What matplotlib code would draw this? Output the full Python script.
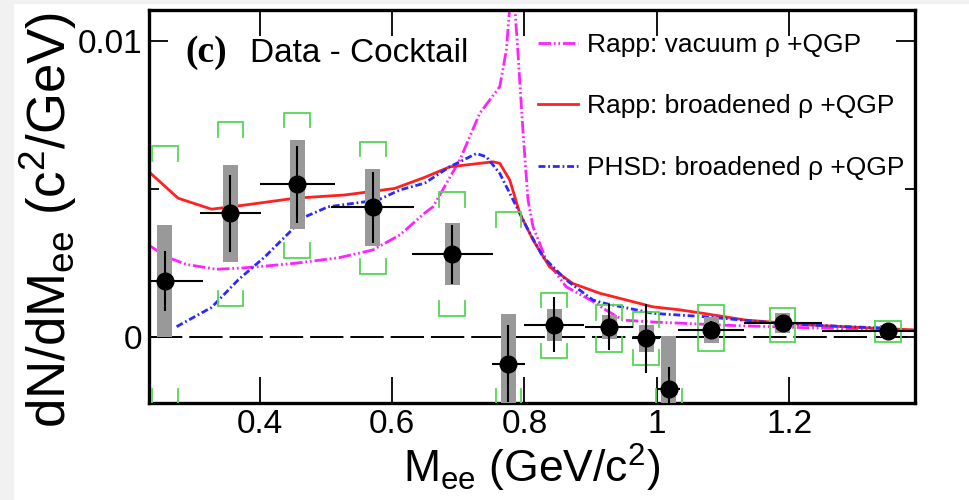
import numpy as np
import matplotlib
matplotlib.use("Agg")
import matplotlib.pyplot as plt
from matplotlib.patches import Rectangle

plt.rcParams['font.family'] = ['Liberation Sans', 'DejaVu Sans']
plt.rcParams['lines.scale_dashes'] = False

# ---------------- data ----------------
mass = [0.257, 0.356, 0.457, 0.571, 0.691, 0.776, 0.845, 0.928, 0.984, 1.018, 1.082, 1.190, 1.349]
dndm = [0.00189, 0.00418, 0.00516, 0.00438, 0.00280, -0.00091, 0.00041, 0.00033, -0.00005, -0.00176, 0.00024, 0.00046, 0.00020]
mass_err = [0.057, 0.046, 0.057, 0.0625, 0.061, 0.025, 0.045, 0.036, 0.021, 0.0175, 0.050, 0.059, 0.100]
stat_err = [0.0010, 0.0013, 0.0013, 0.0012, 0.0010, 0.0013, 0.00093, 0.00078, 0.00118, 0.00076, 0.0003, 0.0002, 0.0001]
sys_err = [0.0019, 0.00163, 0.0015, 0.0013, 0.00105, 0.0017, 0.00055, 0.0004, 0.00045, 0.0018, 0.00045, 0.00034, 0.0002]
cocktail_hi = [0.00645, 0.00727, 0.00758, 0.0066, 0.00491, 0.00423, 0.0015, 0.00108, 0.00085, np.nan, 0.00108, 0.00099, 0.00054]
cocktail_lo = [-0.00226, 0.00106, 0.00268, 0.00213, 0.00071, -0.00226, -0.00072, -0.0005, -0.00095, -0.00226, -0.00046, -0.00017, -0.00017]

vac_m = [0.233, 0.26, 0.29, 0.335, 0.373, 0.42, 0.457, 0.52, 0.571, 0.612, 0.65, 0.662, 0.7024, 0.7326,
         0.7628, 0.7728, 0.778, 0.7805, 0.7853, 0.790, 0.798, 0.8055, 0.813, 0.833, 0.863, 0.9087, 0.9187,
         0.949, 1.0, 1.044, 1.1, 1.2, 1.3, 1.39]
vac_y = [0.0031, 0.0027, 0.00245, 0.00229, 0.00233, 0.00242, 0.0025, 0.00268, 0.00294, 0.00345, 0.0042, 0.0044,
         0.00598, 0.00756, 0.00846, 0.0097, 0.0112, 0.0135, 0.0112, 0.0097, 0.0069, 0.00463, 0.00373, 0.0026,
         0.0017, 0.00114, 0.00097, 0.00057, 0.0005, 0.00046, 0.0004, 0.00033, 0.00027, 0.00023]

brd_m = [0.233, 0.277, 0.3275, 0.378, 0.4533, 0.529, 0.604, 0.65, 0.6872, 0.7526, 0.7628, 0.778, 0.793,
         0.813, 0.838, 0.873, 0.9137, 0.994, 1.034, 1.07, 1.135, 1.236, 1.336, 1.39]
brd_y = [0.00558, 0.00469, 0.00432, 0.00446, 0.00469, 0.0048, 0.00502, 0.0054, 0.00575, 0.00592, 0.00587,
         0.0053, 0.00418, 0.00328, 0.00237, 0.00181, 0.00148, 0.00102, 0.00092, 0.0008, 0.00057, 0.0004,
         0.00029, 0.00024]

phsd_m = [0.2747, 0.3275, 0.3677, 0.408, 0.448, 0.4634, 0.5036, 0.579, 0.612, 0.6495, 0.687, 0.7275, 0.7426,
          0.7628, 0.783, 0.803, 0.828, 0.863, 0.9035, 0.9187, 0.994, 1.07, 1.185, 1.286, 1.362]
phsd_y = [0.00035, 0.001, 0.00193, 0.00271, 0.0036, 0.00401, 0.0044, 0.00463, 0.00497, 0.0052, 0.00575,
          0.0062, 0.00609, 0.00553, 0.00463, 0.00373, 0.00271, 0.00193, 0.00125, 0.00115, 0.0008, 0.00069,
          0.00046, 0.00035, 0.00029]

x_ticks = [0.4, 0.6, 0.8, 1.0, 1.2]
x_ticklabels = ["0.4", "0.6", "0.8", "1", "1.2"]
y_ticks = [0.0, 0.01]
y_ticklabels = ["0", "0.01"]
legend_labels = ["Rapp: vacuum \u03c1 +QGP", "Rapp: broadened \u03c1 +QGP", "PHSD: broadened \u03c1 +QGP"]

# ---------------- figure ----------------
W, H = 969, 500
fig = plt.figure(figsize=(W / 100, H / 100), dpi=100)
fig.add_artist(Rectangle((0, 0), 13 / W, 1, transform=fig.transFigure, color='#f1f1f1', zorder=-10))
fig.add_artist(Rectangle((0, 1 - 3 / H), 1, 3 / H, transform=fig.transFigure, color='#f1f1f1', zorder=-10))

ax = fig.add_axes([149 / W, 1 - 403 / H, (915 - 149) / W, (403 - 10) / H])
ax.set_xlim(0.233, 1.39)
ax.set_ylim(-0.00223, 0.01105)

# zero line
ax.axhline(0, color='k', lw=1.4, dashes=(24, 5), zorder=1)

# curves
magenta = '#ff22ff'
blue = '#2a2aff'
red = '#ff2020'
l_vac, = ax.plot(vac_m, vac_y, color=magenta, lw=2.0, dashes=(9, 2, 1.3, 2, 1.3, 2), zorder=2)
l_brd, = ax.plot(brd_m, brd_y, color=red, lw=2.0, zorder=2)
l_phsd, = ax.plot(phsd_m, phsd_y, color=blue, lw=2.0, dashes=(5, 2, 1.3, 2), zorder=2)

# systematic boxes (gray)
m = np.array(mass)
y = np.array(dndm)
s = np.array(sys_err)
ax.bar(m, 2 * s, bottom=y - s, width=0.0226, color='#999999', lw=0, zorder=3)

# cocktail uncertainty brackets (green)
green = '#55d655'
hw = 0.0194
arm = 0.0005
for xi, hi, lo in zip(mass, cocktail_hi, cocktail_lo):
    if not np.isnan(hi) and not np.isnan(lo) and (hi - lo) < 0.00155:
        ax.plot([xi - hw, xi + hw, xi + hw, xi - hw, xi - hw], [hi, hi, lo, lo, hi],
                color=green, lw=1.3, zorder=4, solid_joinstyle='miter')
        continue
    if not np.isnan(hi):
        ax.plot([xi - hw, xi - hw, xi + hw, xi + hw], [hi - arm, hi, hi, hi - arm],
                color=green, lw=1.3, zorder=4, solid_joinstyle='miter')
    if not np.isnan(lo):
        ax.plot([xi - hw, xi - hw, xi + hw, xi + hw], [lo + arm, lo, lo, lo + arm],
                color=green, lw=1.3, zorder=4, solid_joinstyle='miter')

# data points
ax.errorbar(mass, dndm, xerr=mass_err, yerr=stat_err, fmt='o', color='k', ms=12,
            elinewidth=1.5, capsize=0, zorder=5)

# axes styling
for sp in ax.spines.values():
    sp.set_linewidth(2.4)
ax.set_xticks(x_ticks)
ax.set_xticklabels(x_ticklabels)
ax.set_yticks(y_ticks)
ax.set_yticklabels(y_ticklabels)
ax.set_yticks([0.005], minor=True)
ax.tick_params(axis='x', which='major', direction='in', length=19, width=1.3, top=True,
               labelsize=24, pad=4)
ax.tick_params(axis='y', which='major', direction='in', length=14, width=1.3, right=True,
               labelsize=24, pad=5)
ax.tick_params(axis='y', which='minor', direction='in', length=7, width=1.3, right=True)
ax.tick_params(axis='x', which='minor', bottom=False, top=False)

ax.set_xlabel(r"M$_{\mathregular{ee}}$ (GeV/c$^{\mathregular{2}}$)", fontsize=32)
ax.xaxis.set_label_coords(0.5, -0.1)
ax.set_ylabel(r"dN/dM$_{\mathregular{ee}}$ (c$^{\mathregular{2}}$/GeV)", fontsize=38)
ax.yaxis.set_label_coords(-0.092, 0.465)

ax.text(0.047, 0.892, "(c)", transform=ax.transAxes, fontsize=27, fontweight='bold',
        family=['Liberation Serif', 'DejaVu Serif'], va='center', ha='left')
ax.text(0.132, 0.89, "Data - Cocktail", transform=ax.transAxes, fontsize=24,
        va='center', ha='left')

leg = ax.legend([l_vac, l_brd, l_phsd], legend_labels, loc='upper left',
                bbox_to_anchor=((538 - 149) / 766, 1.0 - (33 - 10) / 393), frameon=False,
                fontsize=19, handlelength=1.5, handletextpad=0.34, labelspacing=1.42,
                borderpad=0, borderaxespad=0)

fig.savefig("out.png", dpi=100)
